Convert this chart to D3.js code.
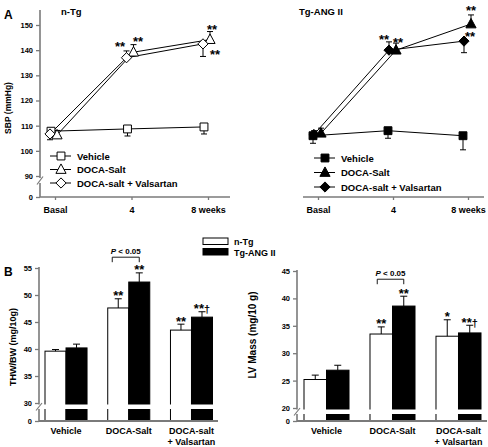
<!DOCTYPE html>
<html><head><meta charset="utf-8">
<script src="https://cdn.jsdelivr.net/npm/d3@7"></script>
<style>
body{margin:0;background:#fff}
svg{font-family:"Liberation Sans",Arial,sans-serif;font-weight:bold}
</style></head><body>
<svg id="c" width="488" height="447"></svg>
<script>
// ---------------- DATA ----------------
const weeks = ["Basal", "4", "8 weeks"];
const seriesA = ["Vehicle", "DOCA-Salt", "DOCA-salt + Valsartan"];
// Panel A, n-Tg (SBP mmHg); negative error = bar drawn downward
const nTgVehicle = [107.8, 108.7, 109.5];
const nTgVehicleErr = [-1.2, -2.8, -2.8];
const nTgDoca = [106.3, 139.2, 144.2];
const nTgDocaErr = [1.8, 3.0, 3.2];
const nTgVals = [106.7, 137.0, 142.5];
const nTgValsErr = [-2.3, 2.7, -5.0];
// Panel A, Tg-ANG II
const tgVehicle = [106.0, 108.0, 106.0];
const tgVehicleErr = [-3.0, -3.0, -5.6];
const tgDoca = [107.0, 140.0, 150.4];
const tgDocaErr = [2.0, 2.8, 3.6];
const tgVals = [106.5, 140.0, 143.6];
const tgValsErr = [1.5, 3.3, -4.6];
const sbpTicks = [90, 100, 110, 120, 130, 140, 150];
// significance marks panel A: [series index, week index, text]
const nTgSig = [[1, 1, "**"], [2, 1, "**"], [1, 2, "**"], [2, 2, "**"]];
const tgSig = [[2, 1, "**"], [1, 1, "**"], [1, 2, "**"], [2, 2, "**"]];

// Panel B
const groups = ["Vehicle", "DOCA-Salt", "DOCA-salt|+ Valsartan"];
const strains = ["n-Tg", "Tg-ANG II"];
const thwNTg = [39.6, 47.6, 43.5], thwNTgErr = [0.3, 1.7, 1.1];
const thwTg = [40.2, 52.4, 45.9], thwTgErr = [0.7, 1.7, 1.0];
const lvNTg = [25.2, 33.5, 33.1], lvNTgErr = [0.8, 1.3, 3.0];
const lvTg = [26.9, 38.6, 33.7], lvTgErr = [0.9, 1.8, 1.4];
const thwTicks = [30, 35, 40, 45, 50, 55];
const lvTicks = [20, 25, 30, 35, 40, 45];
const thwSigNTg = ["", "**", "**"], thwSigTg = ["", "**", "**†"];
const lvSigNTg = ["", "**", "*"], lvSigTg = ["", "**", "**†"];
const pText = "< 0.05";

// ---------------- DRAW ----------------
const svg = d3.select("#c");
const AX = "#7a7a7a";

const diamond = {draw(ctx, size){const r=Math.sqrt(size/2);ctx.moveTo(0,-r);ctx.lineTo(r,0);ctx.lineTo(0,r);ctx.lineTo(-r,0);ctx.closePath();}};
const tri = {draw(ctx, size){const r=Math.sqrt(size)/1.6;ctx.moveTo(0,-r*1.15);ctx.lineTo(r*1.05,r*0.8);ctx.lineTo(-r*1.05,r*0.8);ctx.closePath();}};
const symTypes = [d3.symbolSquare, tri, diamond];
const symSizes = [62, 60, 52];

// SBP scales
const ySBP = d3.scaleLinear().domain([90, 150]).range([176, 25]);
const ySBP0 = d3.scaleLinear().domain([0, 10]).range([197, 187]);

function styleAxis(g){
  g.select(".domain").remove();
  g.selectAll(".tick line").attr("stroke", AX).attr("stroke-width", 1.3);
  g.selectAll(".tick text").attr("fill", "#000").attr("font-weight", "bold")
   .attr("font-family", '"Liberation Sans",Arial,sans-serif');
}

function breakMark(g, x, yTop, yBot){
  g.append("line").attr("x1", x-3).attr("y1", yBot+1.5).attr("x2", x+3).attr("y2", yTop-1.5)
   .attr("stroke", AX).attr("stroke-width", 1.2);
}

function panelA(cfg){
  const g = svg.append("g");
  const x = d3.scalePoint().domain(weeks).range(cfg.xr);
  const vals = cfg.vals, errs = cfg.errs;
  // x axis
  g.append("line").attr("x1", cfg.axL).attr("x2", cfg.axR).attr("y1", ySBP0(0)).attr("y2", ySBP0(0))
   .attr("stroke", AX).attr("stroke-width", 1.6);
  const xa = g.append("g").attr("transform", `translate(0,${ySBP0(0)})`)
    .call(d3.axisBottom(x).tickSize(3).tickPadding(7));
  styleAxis(xa);
  xa.selectAll(".tick text").attr("font-size", 9);
  if (cfg.yAxis){
    const xl = cfg.axL;
    g.append("line").attr("x1", xl).attr("x2", xl).attr("y1", 10).attr("y2", ySBP(90)+2).attr("stroke", AX).attr("stroke-width", 1.6);
    g.append("line").attr("x1", xl).attr("x2", xl).attr("y1", ySBP(90)+7).attr("y2", ySBP0(0)).attr("stroke", AX).attr("stroke-width", 1.6);
    breakMark(g, xl, ySBP(90)+2, ySBP(90)+7);
    const ya = g.append("g").attr("transform", `translate(${xl},0)`)
      .call(d3.axisLeft(ySBP).tickValues(sbpTicks).tickSize(4).tickPadding(3));
    styleAxis(ya); ya.selectAll(".tick text").attr("font-size", 7.5);
    const ya0 = g.append("g").attr("transform", `translate(${xl},0)`)
      .call(d3.axisLeft(ySBP0).tickValues([0]).tickFormat(d3.format("d")).tickSize(4).tickPadding(3));
    styleAxis(ya0); ya0.selectAll(".tick text").attr("font-size", 7.5);
  }
  const px = (s, i) => x(weeks[i]) + cfg.off[s];
  const line = d3.line();
  // lines
  vals.forEach((v, s) => {
    g.append("path").attr("d", line(v.map((d, i) => [px(s, i), ySBP(d)])))
     .attr("fill", "none").attr("stroke", "#000").attr("stroke-width", 1);
  });
  // error bars
  vals.forEach((v, s) => {
    v.forEach((d, i) => {
      const e = errs[s][i], xx = px(s, i), y1 = ySBP(d), y2 = ySBP(d + e);
      g.append("line").attr("x1", xx).attr("x2", xx).attr("y1", y1).attr("y2", y2).attr("stroke", "#000").attr("stroke-width", 1);
      g.append("line").attr("x1", xx-3).attr("x2", xx+3).attr("y1", y2).attr("y2", y2).attr("stroke", "#000").attr("stroke-width", 1);
    });
  });
  // markers
  vals.forEach((v, s) => {
    v.forEach((d, i) => {
      g.append("path").attr("d", d3.symbol().type(symTypes[s]).size(symSizes[s])())
       .attr("transform", `translate(${px(s, i)},${ySBP(d)})`)
       .attr("fill", cfg.filled ? "#000" : "#fff").attr("stroke", "#000").attr("stroke-width", 1);
    });
  });
  // significance
  cfg.sig.forEach((sg, k) => {
    const [s, i, t] = sg, d = vals[s][i], e = errs[s][i];
    const anchor = e > 0 ? d + e : d;
    const o = cfg.sigOff[k];
    g.append("text").attr("x", px(s, i) + o[0]).attr("y", ySBP(anchor) + o[1] + 7.5)
     .attr("text-anchor", "middle").attr("font-size", 13).text(t);
  });
  // legend
  seriesA.forEach((name, s) => {
    const ly = cfg.leg[1] + s * cfg.legStep, lx = cfg.leg[0];
    g.append("line").attr("x1", lx).attr("x2", lx + 21).attr("y1", ly).attr("y2", ly).attr("stroke", "#000").attr("stroke-width", 1);
    g.append("path").attr("d", d3.symbol().type(symTypes[s]).size(symSizes[s])())
     .attr("transform", `translate(${lx + 11},${ly})`)
     .attr("fill", cfg.filled ? "#000" : "#fff").attr("stroke", "#000");
    g.append("text").attr("x", lx + 27).attr("y", ly + 3.5).attr("font-size", 9.5).text(name);
  });
  g.append("text").attr("x", cfg.title[0]).attr("y", cfg.title[1]).attr("font-size", 9.5).text(cfg.titleText);
}

panelA({xr: [55, 208], axL: 40, axR: 230, yAxis: true, filled: false,
  vals: [nTgVehicle, nTgDoca, nTgVals], errs: [nTgVehicleErr, nTgDocaErr, nTgValsErr],
  off: [-4, 2, -5], sig: nTgSig, sigOff: [[4.5, -5.7], [-6.5, -7], [2, -4.6], [12, 8]],
  leg: [50, 156], legStep: 13.5, title: [61, 15], titleText: "n-Tg"});
panelA({xr: [318, 468], axL: 303, axR: 484, yAxis: false, filled: true,
  vals: [tgVehicle, tgDoca, tgVals], errs: [tgVehicleErr, tgDocaErr, tgValsErr],
  off: [-5, 3, -4], sig: tgSig, sigOff: [[-5, -5], [2, -4], [0, -7], [6, -8]],
  leg: [314, 158], legStep: 14.5, title: [299, 15], titleText: "Tg-ANG II"});

svg.append("text").attr("x", 4).attr("y", 19).attr("font-size", 12).text("A");
svg.append("text").attr("transform", `translate(11,108) rotate(-90)`).attr("text-anchor", "middle").attr("font-size", 8.5).text("SBP (mmHg)");

// ---------------- PANEL B ----------------
function panelB(cfg){
  const g = svg.append("g");
  const y = d3.scaleLinear().domain(cfg.dom).range(cfg.yr);
  const y0 = cfg.y0;
  const xg = d3.scaleBand().domain(groups).range(cfg.xr).paddingInner(cfg.pad).paddingOuter(0);
  const xs = d3.scaleBand().domain(strains).range([0, xg.bandwidth()]);
  const series = [[cfg.nTg, cfg.nTgErr, cfg.sigN], [cfg.tg, cfg.tgErr, cfg.sigT]];
  const brTop = y(cfg.dom[0]) + 1.5, brBot = y(cfg.dom[0]) + 6;
  // bars
  series.forEach((sr, k) => {
    sr[0].forEach((v, i) => {
      const bx = xg(groups[i]) + xs(strains[k]);
      g.append("rect").attr("x", bx).attr("y", y(v)).attr("width", xs.bandwidth()).attr("height", y0 - y(v))
       .attr("fill", k ? "#000" : "#fff").attr("stroke", "#000").attr("stroke-width", 1);
      const ey = y(v + sr[1][i]), cx = bx + xs.bandwidth()/2;
      g.append("line").attr("x1", cx).attr("x2", cx).attr("y1", y(v)).attr("y2", ey).attr("stroke", "#000");
      g.append("line").attr("x1", cx-3.5).attr("x2", cx+3.5).attr("y1", ey).attr("y2", ey).attr("stroke", "#000");
      if (sr[2][i]) {
        const t = g.append("text").attr("x", cx).attr("y", ey - 6 + 7.5).attr("text-anchor", "middle").attr("font-size", 13);
        const txt = sr[2][i];
        t.append("tspan").text(txt.replace("†", ""));
        if (txt.includes("†")) t.append("tspan").attr("font-size", 11).text("†");
      }
    });
  });
  // break gap
  g.append("rect").attr("x", cfg.axL - 6).attr("y", brTop).attr("width", cfg.axR - cfg.axL + 6).attr("height", brBot - brTop).attr("fill", "#fff");
  // axes
  g.append("line").attr("x1", cfg.axL).attr("x2", cfg.axL).attr("y1", y(cfg.dom[1]) - 1).attr("y2", brTop).attr("stroke", AX).attr("stroke-width", 1.6);
  g.append("line").attr("x1", cfg.axL).attr("x2", cfg.axL).attr("y1", brBot).attr("y2", y0).attr("stroke", AX).attr("stroke-width", 1.6);
  breakMark(g, cfg.axL, brTop, brBot);
  g.append("line").attr("x1", cfg.axL).attr("x2", cfg.axR).attr("y1", y0).attr("y2", y0).attr("stroke", AX).attr("stroke-width", 1.8);
  const ya = g.append("g").attr("transform", `translate(${cfg.axL},0)`)
    .call(d3.axisLeft(y).tickValues(cfg.ticks).tickSize(4).tickPadding(3));
  styleAxis(ya); ya.selectAll(".tick text").attr("font-size", 7.5);
  const yz = d3.scaleLinear().domain([0, 10]).range([y0, y0 - 10]);
  const ya0 = g.append("g").attr("transform", `translate(${cfg.axL},0)`)
    .call(d3.axisLeft(yz).tickValues([0]).tickFormat(d3.format("d")).tickSize(4).tickPadding(3));
  styleAxis(ya0); ya0.selectAll(".tick text").attr("font-size", 7.5);
  // category labels
  groups.forEach(gr => {
    const cx = xg(gr) + xg.bandwidth()/2;
    gr.split("|").forEach((ln, j) => {
      g.append("text").attr("x", cx).attr("y", y0 + 13 + j * 11).attr("text-anchor", "middle").attr("font-size", 9).text(ln);
    });
  });
  // P bracket
  const bxl = xg(groups[1]) + xs.bandwidth()/2 - cfg.brOff, bxr = xg(groups[1]) + xs(strains[1]) + xs.bandwidth()/2;
  const by = y(cfg.pVal);
  g.append("path").attr("d", `M${bxl},${by+5}V${by}H${bxr}V${by+5}`).attr("fill", "none").attr("stroke", "#000").attr("stroke-width", 0.9);
  const pt = g.append("text").attr("x", (bxl + bxr)/2).attr("y", by - 3).attr("text-anchor", "middle").attr("font-size", 8);
  pt.append("tspan").attr("font-style", "italic").text("P");
  pt.append("tspan").text(" " + pText);
  // y label
  g.append("text").attr("transform", `translate(${cfg.ylab[0]},${cfg.ylab[1]}) rotate(-90)`).attr("text-anchor", "middle")
   .attr("font-size", cfg.ylabSize).text(cfg.ylabText);
}

panelB({dom: [30, 55], yr: [403, 268], y0: 421, xr: [45, 212.5], pad: 0.33, axL: 39, axR: 218,
  nTg: thwNTg, nTgErr: thwNTgErr, tg: thwTg, tgErr: thwTgErr, sigN: thwSigNTg, sigT: thwSigTg,
  ticks: thwTicks, pVal: 57, brOff: 6, ylab: [16, 347], ylabSize: 9, ylabText: "THW/BW (mg/10g)"});
panelB({dom: [20, 45], yr: [408, 271], y0: 421, xr: [304, 481], pad: 0.318, axL: 297, axR: 487,
  nTg: lvNTg, nTgErr: lvNTgErr, tg: lvTg, tgErr: lvTgErr, sigN: lvSigNTg, sigT: lvSigTg,
  ticks: lvTicks, pVal: 43.5, brOff: 4, ylab: [256, 335], ylabSize: 10, ylabText: "LV Mass (mg/10 g)"});

svg.append("text").attr("x", 4).attr("y", 276).attr("font-size", 12).text("B");

// legend B
strains.forEach((s, k) => {
  svg.append("rect").attr("x", 203).attr("y", 238 + k * 10.5).attr("width", 25).attr("height", 6.5)
   .attr("fill", k ? "#000" : "#fff").attr("stroke", "#000").attr("stroke-width", 1);
  svg.append("text").attr("x", 234).attr("y", 245 + k * 10.5).attr("font-size", 9).text(s);
});
</script></body></html>
